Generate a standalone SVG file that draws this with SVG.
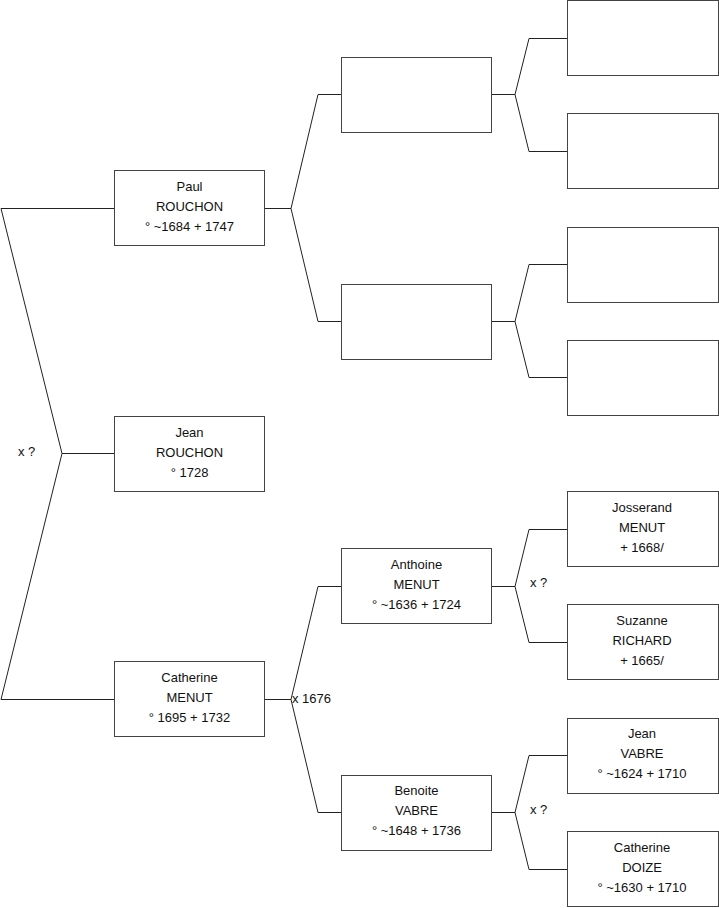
<svg xmlns="http://www.w3.org/2000/svg" width="719" height="908" viewBox="0 0 719 908">
<style>
.b{fill:#fff;stroke:#444;stroke-width:1}
.c{fill:none;stroke:#222;stroke-width:1}
text{font-family:"Liberation Sans",Arial,sans-serif;font-size:13px;fill:#111;text-anchor:middle}
.l{text-anchor:start}
</style>
<rect width="719" height="908" fill="#fff"/>
<g id="connectors">
<polyline class="c" points="114,208.5 1,208.5 62,453.5 1,699.5 114,699.5"/>
<line class="c" x1="62" y1="453.5" x2="114" y2="453.5"/>
<polyline class="c" points="341,94.5 318,94.5 291,208.5 318,321.5 341,321.5"/>
<line class="c" x1="265" y1="208.5" x2="291" y2="208.5"/>
<polyline class="c" points="341,586.5 318,586.5 291,699.5 318,812.5 341,812.5"/>
<line class="c" x1="265" y1="699.5" x2="291" y2="699.5"/>
<polyline class="c" points="567,38.5 529,38.5 515,94.5 529,151.5 567,151.5"/>
<line class="c" x1="491" y1="94.5" x2="515" y2="94.5"/>
<polyline class="c" points="567,264.5 529,264.5 515,321.5 529,377.5 567,377.5"/>
<line class="c" x1="491" y1="321.5" x2="515" y2="321.5"/>
<polyline class="c" points="567,529.5 529,529.5 515,586.5 529,642.5 567,642.5"/>
<line class="c" x1="491" y1="586.5" x2="515" y2="586.5"/>
<polyline class="c" points="567,755.5 529,755.5 515,812.5 529,869.5 567,869.5"/>
<line class="c" x1="491" y1="812.5" x2="515" y2="812.5"/>
<text class="l" x="18" y="456">x ?</text>
<text class="l" x="292" y="703">x 1676</text>
<text class="l" x="530" y="587">x ?</text>
<text class="l" x="530" y="814">x ?</text>
</g>
<g id="paul"><rect class="b" x="114.5" y="170.5" width="150" height="75"/><text x="189.5" y="191">Paul</text><text x="189.5" y="211">ROUCHON</text><text x="189.5" y="231">° ~1684 + 1747</text></g>
<g id="jean-rouchon"><rect class="b" x="114.5" y="416.5" width="150" height="75"/><text x="189.5" y="437">Jean</text><text x="189.5" y="457">ROUCHON</text><text x="189.5" y="477">° 1728</text></g>
<g id="catherine-menut"><rect class="b" x="114.5" y="661.5" width="150" height="75"/><text x="189.5" y="682">Catherine</text><text x="189.5" y="702">MENUT</text><text x="189.5" y="722">° 1695 + 1732</text></g>
<g id="p-father"><rect class="b" x="341.5" y="57.5" width="150" height="75"/></g>
<g id="p-mother"><rect class="b" x="341.5" y="284.5" width="150" height="75"/></g>
<g id="anthoine"><rect class="b" x="341.5" y="548.5" width="150" height="75"/><text x="416.5" y="569">Anthoine</text><text x="416.5" y="589">MENUT</text><text x="416.5" y="609">° ~1636 + 1724</text></g>
<g id="benoite"><rect class="b" x="341.5" y="775.5" width="150" height="75"/><text x="416.5" y="795">Benoite</text><text x="416.5" y="815">VABRE</text><text x="416.5" y="835">° ~1648 + 1736</text></g>
<g id="r1"><rect class="b" x="567.5" y="0.5" width="151" height="75"/></g>
<g id="r2"><rect class="b" x="567.5" y="113.5" width="151" height="75"/></g>
<g id="r3"><rect class="b" x="567.5" y="227.5" width="151" height="75"/></g>
<g id="r4"><rect class="b" x="567.5" y="340.5" width="151" height="75"/></g>
<g id="josserand"><rect class="b" x="567.5" y="491.5" width="151" height="75"/><text x="642" y="512">Josserand</text><text x="642" y="532">MENUT</text><text x="642" y="552">+ 1668/</text></g>
<g id="suzanne"><rect class="b" x="567.5" y="604.5" width="151" height="75"/><text x="642" y="625">Suzanne</text><text x="642" y="645">RICHARD</text><text x="642" y="665">+ 1665/</text></g>
<g id="jean-vabre"><rect class="b" x="567.5" y="718.5" width="151" height="75"/><text x="642" y="738">Jean</text><text x="642" y="758">VABRE</text><text x="642" y="778">° ~1624 + 1710</text></g>
<g id="catherine-doize"><rect class="b" x="567.5" y="831.5" width="151" height="75"/><text x="642" y="852">Catherine</text><text x="642" y="872">DOIZE</text><text x="642" y="892">° ~1630 + 1710</text></g>
</svg>
